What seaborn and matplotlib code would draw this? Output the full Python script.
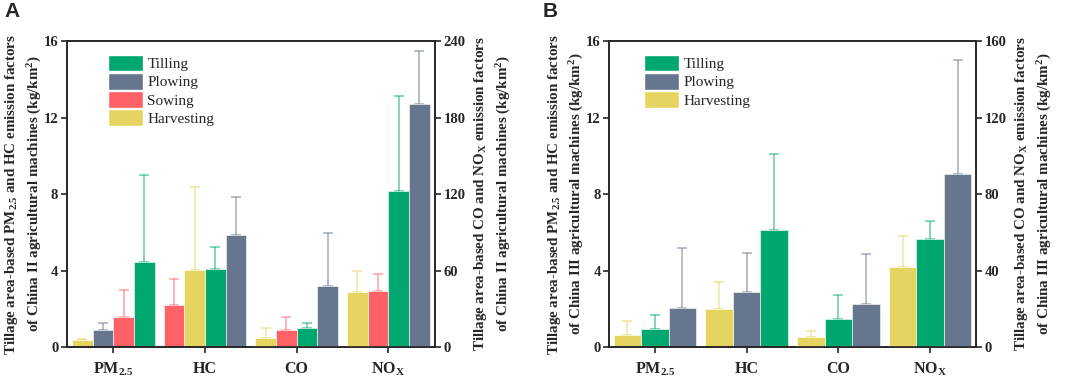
import numpy as np
import pandas as pd
import matplotlib
matplotlib.use("Agg")
import matplotlib.pyplot as plt
import seaborn as sns
from matplotlib.patches import Patch

# ---------------- data ----------------
pollutants = ["PM$_{2.5}$", "HC", "CO", "NO$_X$"]

# Panel A (China II) – PM2.5, HC on left axis; CO, NOx on right axis
A_machines = ["Tilling", "Plowing", "Sowing", "Harvesting"]
A_tilling = [4.45, 4.10, 14.9, 122.5]
A_tilling_sd = [4.52, 1.15, 3.7, 74.3]
A_plowing = [0.91, 5.88, 47.6, 190.3]
A_plowing_sd = [0.33, 1.97, 42.2, 41.9]
A_sowing = [1.59, 2.18, 13.1, 44.2]
A_sowing_sd = [1.38, 1.35, 10.7, 13.4]
A_harvesting = [0.35, 4.05, 7.3, 42.9]
A_harvesting_sd = [0.09, 4.34, 7.9, 16.5]

# Panel B (China III)
B_machines = ["Tilling", "Plowing", "Harvesting"]
B_tilling = [0.92, 6.11, 14.7, 56.5]
B_tilling_sd = [0.74, 3.99, 12.7, 9.6]
B_plowing = [2.06, 2.86, 22.3, 90.2]
B_plowing_sd = [3.14, 2.03, 26.2, 59.7]
B_harvesting = [0.61, 1.99, 5.1, 41.7]
B_harvesting_sd = [0.75, 1.41, 3.45, 16.4]

colors = {"Tilling": "#00A870", "Plowing": "#66768F",
          "Sowing": "#FF6166", "Harvesting": "#E6D460"}

# ---------------- style ----------------
sns.set_style("ticks")
plt.rcParams["font.family"] = ["Liberation Serif", "DejaVu Serif"]
plt.rcParams["mathtext.fontset"] = "custom"
plt.rcParams["mathtext.rm"] = "Liberation Serif:bold"
plt.rcParams["mathtext.it"] = "Liberation Serif:bold"
plt.rcParams["mathtext.bf"] = "Liberation Serif:bold"
plt.rcParams["mathtext.default"] = "rm"
plt.rcParams["axes.linewidth"] = 1.2

fig = plt.figure(figsize=(10.72, 3.81), dpi=100)
axA = fig.add_axes([0.0622, 0.0892, 0.3436, 0.8032])
axB = fig.add_axes([0.5681, 0.0892, 0.3423, 0.8032])

LABEL_FS = 10.8


def draw_panel(ax, machines, means, sds, right_max, right_step, stage, leg_x):
    n = len(machines)
    w = 0.9 / n
    rows = []
    for i, p in enumerate(pollutants):
        vals = [means[m][i] for m in machines]
        order = np.argsort(vals)
        for rank, j in enumerate(order):
            m = machines[j]
            rows.append(dict(pollutant=p, idx=i, machine=m,
                             x=i + (rank - (n - 1) / 2) * w,
                             value=means[m][i], sd=sds[m][i]))
    df = pd.DataFrame(rows)
    ax2 = ax.twinx()
    for a, d in ((ax, df[df.idx < 2]), (ax2, df[df.idx >= 2])):
        for m in machines:
            dm = d[d.machine == m]
            a.errorbar(dm.x, dm.value, yerr=[np.zeros(len(dm)), dm.sd.values],
                       fmt="none", ecolor=colors[m], alpha=0.6, elinewidth=1.1,
                       capsize=3.5, capthick=1.1, zorder=1)
        sns.barplot(data=d, x="x", y="value", hue="machine", hue_order=machines,
                    palette=colors, native_scale=True, dodge=False, saturation=1,
                    width=1, errorbar=None, legend=False, ax=a,
                    edgecolor="white", linewidth=0.4, zorder=2)

    ax.set_xlim(-0.51, 3.51)
    ax.set_xticks(range(4))
    ax.set_xticklabels(pollutants, fontsize=11.5, fontweight="bold")
    ax.set_xlabel("")
    ax.set_ylim(0, 16)
    ax.set_yticks([0, 4, 8, 12, 16])
    ax.set_yticklabels(["0", "4", "8", "12", "16"], fontsize=10.5, fontweight="bold")
    ax2.set_ylim(0, right_max)
    rt = np.arange(0, right_max + 1, right_step)
    ax2.set_yticks(rt)
    ax2.set_yticklabels([str(int(v)) for v in rt], fontsize=10.5, fontweight="bold")
    ax2.set_xlabel("")
    for a in (ax, ax2):
        a.tick_params(direction="out", length=4, width=1.2, pad=2)
        for s in a.spines.values():
            s.set_visible(True)
            s.set_linewidth(1.2)
    ax.tick_params(axis="x", pad=6)

    ax.set_ylabel("Tillage area-based PM$_{2.5}$ and HC emission factors\n"
                  f"of China {stage} agricultural machines (kg/km$^2$)",
                  fontsize=LABEL_FS, fontweight="bold", linespacing=1.4)
    ax.yaxis.set_label_coords(-0.062, 0.5)
    ax2.set_ylabel("Tillage area-based CO and NO$_X$ emission factors\n"
                   f"of China {stage} agricultural machines (kg/km$^2$)",
                   fontsize=LABEL_FS, fontweight="bold", linespacing=1.45,
                   rotation=90, labelpad=5)

    handles = [Patch(facecolor=colors[m], edgecolor="white", label=m) for m in machines]
    ax2.legend(handles=handles, loc="upper left", bbox_to_anchor=(leg_x, 0.955),
               frameon=False, fontsize=11, handlelength=2.3, handleheight=1.3,
               labelspacing=0.1, handletextpad=0.3, borderpad=0, borderaxespad=0)
    return ax2


draw_panel(axA, A_machines,
           {"Tilling": A_tilling, "Plowing": A_plowing, "Sowing": A_sowing, "Harvesting": A_harvesting},
           {"Tilling": A_tilling_sd, "Plowing": A_plowing_sd, "Sowing": A_sowing_sd, "Harvesting": A_harvesting_sd},
           240, 60, "II", 0.111)
draw_panel(axB, B_machines,
           {"Tilling": B_tilling, "Plowing": B_plowing, "Harvesting": B_harvesting},
           {"Tilling": B_tilling_sd, "Plowing": B_plowing_sd, "Harvesting": B_harvesting_sd},
           160, 40, "III", 0.096)
axB.set_xlim(-0.5, 3.5)

fig.text(0.004, 0.995, "A", fontsize=15, fontweight="bold", family="Liberation Sans", va="top")
fig.text(0.506, 0.995, "B", fontsize=15, fontweight="bold", family="Liberation Sans", va="top")

fig.savefig("out.png", dpi=100)
